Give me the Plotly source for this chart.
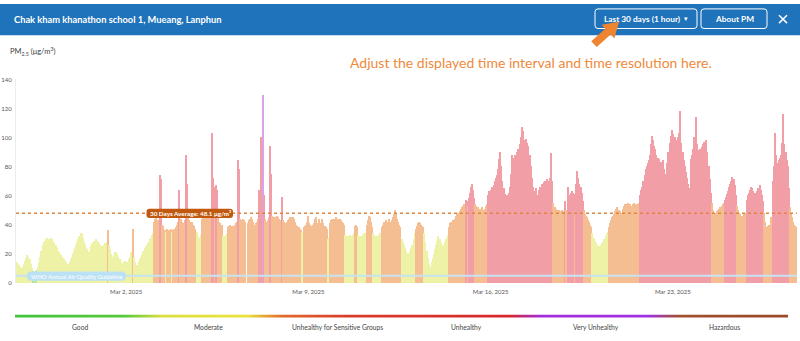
import numpy as np
import pandas as pd
import plotly.graph_objects as go

W, H = 800, 341

STATION = "Chak kham khanathon school 1, Mueang, Lanphun"
START = "2025-02-25 19:00"
AVG_30D = 48.1
WHO_GUIDELINE = 5

# Hourly PM2.5 (µg/m³), one row per day, six days per list
pm25_feb25_mar02 = [
    14, 13, 12, 11, 10, 10, 11, 13, 15, 17, 19, 18, 16, 13, 10, 8, 7, 7, 8, 9, 11, 14, 18, 22,
    26, 28, 29, 30, 31, 30, 29, 30, 31, 30, 29, 27, 26, 24, 22, 21, 20, 19, 18, 17, 16, 15, 14, 13,
    13, 14, 16, 18, 20, 22, 24, 26, 28, 30, 32, 34, 34, 31, 28, 26, 24, 23, 21, 20, 22, 25, 27, 29,
    29, 30, 29, 28, 27, 26, 25, 24, 25, 26, 27, 28, 36, 26, 23, 20, 18, 17, 19, 21, 21, 20, 18, 16,
    14, 13, 13, 14, 15, 14, 13, 14, 16, 18, 21, 37, 18, 14, 12, 11, 12, 14, 16, 18, 20, 22, 24, 25,
    26, 27, 28, 30, 31, 33, 34, 42, 44, 45, 43, 41, 74, 71, 40, 39, None, 36, 35, 37, 36, 36, 37, 35,
]
pm25_mar03_mar08 = [
    36, 37, 36, 38, 40, 42, 64, 43, 44, 42, 41, 43, 88, 68, 45, 43, 42, 41, 42, 40, 39, 37, 35, 32,
    30, 31, 33, 44, 45, 46, 45, 44, 45, 46, 47, 48, 103, 72, 66, 48, 67, 64, 45, 42, 41, 40, 32, 31,
    32, 33, 34, 38, 39, 40, 39, 38, 39, 40, 41, 42, 84, 78, 44, 43, 42, 44, 43, 42, None, 41, 43, 44,
    45, 44, 42, 40, 38, 41, 42, 44, 64, 100, 97, 129, 60, 44, 42, 41, 43, 45, 94, 75, 46, 45, 44, 45,
    46, 45, 44, 43, 42, 59, 43, 42, 41, 42, 43, 44, 45, 45, 44, 45, 44, 42, 40, 39, 38, 37, 36, 35,
    None, 38, 39, 40, 42, 46, 41, 40, 39, 40, 41, 44, 45, 41, 40, 44, 40, 41, 44, 41, 39, 38, 37, 30,
]
pm25_mar09_mar14 = [
    31, 41, 43, 44, 44, 43, 44, 45, 44, 43, 44, 43, 42, 41, 40, 33, 32, 31, 32, 33, 32, 31, 33, 34,
    39, 40, 38, 33, 32, 31, 32, 33, 34, 33, 34, 40, 43, 46, 45, 42, 38, 34, 33, 32, 31, 32, 33, 34,
    34, 38, 40, 42, 41, 43, 42, 44, 41, 42, 43, 45, 47, 50, 48, 44, 42, 40, 38, 30, 28, 26, 24, 22,
    20, 19, 20, 22, 24, 26, 30, 34, 37, 39, 41, 42, 41, 40, 39, 38, 34, 28, 22, 17, 13, 10, 11, 14,
    17, 20, 23, 26, 29, 32, 30, 27, 25, 24, 26, 28, 30, 31, 33, 38, 41, 42, 43, 42, 44, 46, 47, 48,
    47, 49, 51, 52, 53, 54, 57, 56, 53, 58, 62, 66, 68, 64, 58, 54, 53, 52, 51, 50, 51, 52, 50, 49,
]
pm25_mar15_mar20 = [
    51, 53, 54, 60, 63, 64, 66, 65, 67, 70, 72, 74, 78, 85, 90, 80, 70, 65, 61, 60, 59, 60, 62, 66,
    75, 88, 86, 85, 88, 90, 92, 91, 95, 100, 107, 104, 98, 97, 99, 96, 94, 88, 80, 72, 66, 63, 62, 65,
    57, 60, 64, 66, 68, 67, 69, 70, 70, 71, 69, 70, 72, 89, 70, 55, 52, 51, 50, 49, 50, 49, 48, 50,
    49, 48, 56, 50, 66, 56, 60, 62, 63, 62, 61, 49, 68, 77, 72, 68, 66, 62, 56, 50, 47, 46, 45, 43,
    42, 40, 38, 34, 31, 29, 27, 26, 25, 25, 25, 26, 27, 28, 30, 32, 34, 35, 38, 41, 43, 45, 46, 47,
    49, 51, 52, 50, 49, 47, 48, 51, 53, 54, 54, 53, 55, 54, 54, 53, 54, 55, 54, 53, 54, 54, 55, 60,
]
pm25_mar21_mar27 = [
    64, 66, 70, 74, 78, 80, 82, 84, 88, 95, 101, 98, 94, 92, 88, 86, 85, 82, 83, 80, 84, 78, 75, 75,
    82, 90, 96, 101, 105, 102, 99, 100, 98, 97, 100, 103, 118, 96, 90, 84, 80, 76, 72, 68, 65, 64, 85, 88,
    92, 100, 114, 95, 91, 90, 92, 91, 93, 95, 97, 96, 98, 90, 80, 71, 62, 55, 50, 48, 47, 48, 49, 50,
    51, 52, 53, 54, 55, 57, 59, 61, 63, 66, 68, 70, 73, 71, 67, 60, 53, 50, 48, 47, 46, 45, 46, 47,
    48, 57, 60, 62, 64, 66, 65, 63, 62, 61, 62, 63, 65, 67, 64, 60, 56, 48, 42, 36, 38, 39, 40, 39,
    45, 70, 80, 103, 88, 82, 80, 84, 86, 88, 96, 116, 95, 90, 84, 80, 65, 52, 48, 45, 42, 40, 39, 38,
]

CATEGORIES = ["Good", "Moderate", "Unhealthy for Sensitive Groups",
              "Unhealthy", "Very Unhealthy", "Hazardous"]
BREAKPOINTS = [9.0, 35.4, 55.4, 125.4, 225.4]
BAR_COLORS = ["#b5e6a6", "#eef2a6", "#f4be92", "#f29ea6", "#d9a3e6", "#c9a08f"]

X_TICKS = ["2025-03-02", "2025-03-09", "2025-03-16", "2025-03-23"]
Y_TICKS = [0, 20, 40, 60, 80, 100, 120, 140]

FONT = "Lato"


def px(x):
    return x / W


def py(y):
    return 1 - y / H


def pt(x, y):
    return f"{px(x):.5f},{py(y):.5f}"


def rounded_rect(x0, y0, x1, y1, r):
    """SVG path (paper coords) of a rounded rectangle given in pixels."""
    return (f"M {pt(x0 + r, y0)} L {pt(x1 - r, y0)} Q {pt(x1, y0)} {pt(x1, y0 + r)} "
            f"L {pt(x1, y1 - r)} Q {pt(x1, y1)} {pt(x1 - r, y1)} "
            f"L {pt(x0 + r, y1)} Q {pt(x0, y1)} {pt(x0, y1 - r)} "
            f"L {pt(x0, y0 + r)} Q {pt(x0, y0)} {pt(x0 + r, y0)} Z")


def block_arrow(tail, tip, head_len, head_half, shaft_half):
    """SVG path (paper coords) of a filled arrow given in pixels."""
    tx, ty = tail
    hx, hy = tip
    length = np.hypot(hx - tx, hy - ty)
    dx, dy = (hx - tx) / length, (hy - ty) / length
    nx, ny = -dy, dx
    bx, by = hx - head_len * dx, hy - head_len * dy
    pts = [
        (hx, hy),
        (bx + head_half * nx, by + head_half * ny),
        (bx + shaft_half * nx, by + shaft_half * ny),
        (tx + shaft_half * nx, ty + shaft_half * ny),
        (tx - shaft_half * nx, ty - shaft_half * ny),
        (bx - shaft_half * nx, by - shaft_half * ny),
        (bx - head_half * nx, by - head_half * ny),
    ]
    return "M " + " L ".join(pt(x, y) for x, y in pts) + " Z"


values = (pm25_feb25_mar02 + pm25_mar03_mar08 + pm25_mar09_mar14
          + pm25_mar15_mar20 + pm25_mar21_mar27)
times = pd.date_range(START, periods=len(values), freq="h")
numeric = np.array([v if v is not None else 0 for v in values], dtype=float)
colors = [BAR_COLORS[i] for i in np.digitize(numeric, BREAKPOINTS, right=True)]

fig = go.Figure()

fig.add_trace(go.Bar(
    x=times, y=values, width=3600 * 1000,
    marker=dict(color=colors, line=dict(width=0)),
    hoverinfo="skip", showlegend=False,
))

# colour ribbon for the category legend
N = 400
scale = [
    [0.0, "#3fc43b"], [0.14, "#55c93a"], [0.19, "#dcdf3c"], [0.30, "#ebe23c"],
    [0.345, "#e26a2c"], [0.43, "#db3c2a"], [0.64, "#d6282c"], [0.68, "#a42cdc"],
    [0.82, "#a032e0"], [0.86, "#a0502e"], [1.0, "#9c4a2a"],
]
fig.add_trace(go.Heatmap(
    z=[list(range(N))], x=list(np.linspace(0, 1, N)), y=[0],
    xaxis="x2", yaxis="y2", colorscale=scale, showscale=False,
    hoverinfo="skip",
))

x0 = times[0] - pd.Timedelta(minutes=30)
x1 = times[-1] + pd.Timedelta(minutes=30)

tick_font = dict(family=FONT, size=6, color="#555")
fig.update_layout(
    width=W, height=H, margin=dict(l=0, r=0, t=0, b=0),
    paper_bgcolor="white", plot_bgcolor="white",
    bargap=0, showlegend=False,
    xaxis=dict(domain=[px(16), px(797)], range=[x0, x1], type="date",
               tickvals=X_TICKS, tickformat="%b %-d, %Y", tickfont=tick_font,
               showgrid=False, zeroline=False, showline=False, ticks="",
               ticklabelstandoff=4),
    yaxis=dict(domain=[py(285), py(77)], range=[0, 140], tickvals=Y_TICKS,
               tickfont=tick_font, showgrid=False, zeroline=False,
               showline=True, linecolor="#ececec", linewidth=1, ticks="",
               ticklabelstandoff=2),
    xaxis2=dict(domain=[px(15), px(788)], anchor="y2", visible=False),
    yaxis2=dict(domain=[py(320.5), py(317)], anchor="x2", visible=False),
)

shapes = [
    # header band
    dict(type="rect", xref="paper", yref="paper", x0=0, x1=1, y0=py(32), y1=1,
         fillcolor="#1f73ba", line=dict(width=0)),
    # header buttons
    dict(type="path", xref="paper", yref="paper", path=rounded_rect(595, 5, 697, 25, 3),
         line=dict(color="white", width=1), fillcolor="rgba(0,0,0,0)"),
    dict(type="path", xref="paper", yref="paper", path=rounded_rect(701, 5, 767, 25, 3),
         line=dict(color="white", width=1), fillcolor="rgba(0,0,0,0)"),
    # close cross
    dict(type="line", xref="paper", yref="paper", x0=px(779), y0=py(11.5), x1=px(787), y1=py(19.5),
         line=dict(color="white", width=1.5)),
    dict(type="line", xref="paper", yref="paper", x0=px(779), y0=py(19.5), x1=px(787), y1=py(11.5),
         line=dict(color="white", width=1.5)),
    # pointer towards the interval selector
    dict(type="path", xref="paper", yref="paper",
         path=block_arrow((594, 41), (619, 18), 15, 9.5, 4),
         fillcolor="#ef8531", line=dict(width=0)),
    # reference lines
    dict(type="line", xref="paper", yref="y", x0=px(16), x1=px(797),
         y0=WHO_GUIDELINE, y1=WHO_GUIDELINE, line=dict(color="#c6e3f1", width=2)),
    dict(type="line", xref="paper", yref="y", x0=px(16), x1=px(797),
         y0=AVG_30D, y1=AVG_30D, line=dict(color="#df8741", width=1.5, dash="dot")),
    # label pills
    dict(type="path", xref="paper", yref="paper", path=rounded_rect(146.5, 209, 233, 218.5, 3),
         fillcolor="#c0580f", line=dict(width=0)),
    dict(type="path", xref="paper", yref="paper", path=rounded_rect(27, 273, 126, 282.5, 4.5),
         fillcolor="#bde1f4", line=dict(width=0)),
]

annotations = [
    dict(text=STATION, x=px(12), y=py(15.5), xanchor="left", yanchor="middle",
         font=dict(family=FONT, size=9.3, color="white", weight=700)),
    dict(text="Last 30 days (1 hour)", x=px(641.5), y=py(15.5), xanchor="center", yanchor="middle",
         font=dict(family=FONT, size=8.3, color="white", weight=700)),
    dict(text="▾", x=px(686), y=py(15.5), xanchor="center", yanchor="middle",
         font=dict(family="DejaVu Sans", size=7, color="white")),
    dict(text="About PM", x=px(734.5), y=py(15.5), xanchor="center", yanchor="middle",
         font=dict(family=FONT, size=8.3, color="white", weight=700)),
    dict(text="PM<sub>2.5</sub> (μg/m<sup>3</sup>)", x=px(8), y=py(48), xanchor="left",
         yanchor="middle", font=dict(family=FONT, size=7.5, color="#444")),
    dict(text="Adjust the displayed time interval and time resolution here.",
         x=px(531), y=py(59.5), xanchor="center", yanchor="middle",
         font=dict(family=FONT, size=14, color="#ee8a3c")),
    dict(text=f"30 Days Average: {AVG_30D} μg/m³", x=px(190), y=py(213.8),
         xanchor="center", yanchor="middle",
         font=dict(family=FONT, size=6.3, color="white", weight=700)),
    dict(text="WHO Annual Air Quality Guideline", x=px(76.5), y=py(277.8),
         xanchor="center", yanchor="middle",
         font=dict(family=FONT, size=6, color="white")),
]
for k, name in enumerate(CATEGORIES):
    annotations.append(dict(
        text=name, x=px(15 + 129 * (k + 0.5)), y=py(329.5), xanchor="center",
        yanchor="middle", font=dict(family=FONT, size=6.7, color="#444")))

for a in annotations:
    a.setdefault("xref", "paper")
    a.setdefault("yref", "paper")
    a.setdefault("showarrow", False)

fig.update_layout(shapes=shapes, annotations=annotations)
fig.write_html("out.html")
